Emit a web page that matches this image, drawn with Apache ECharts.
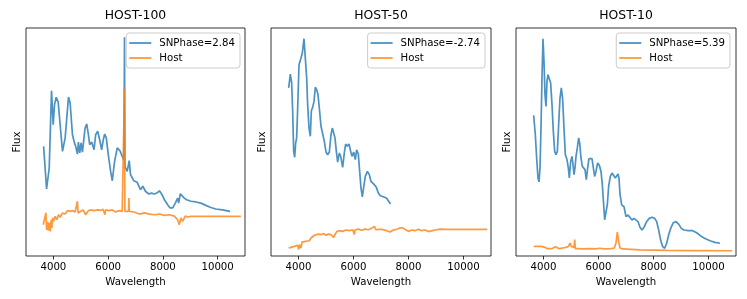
<!DOCTYPE html>
<html>
<head>
<meta charset="utf-8">
<script src="https://cdn.jsdelivr.net/npm/echarts@6/dist/echarts.min.js"></script>
<style>
html,body{margin:0;padding:0;background:#fff;}
#chart{width:747px;height:299px;}
</style>
</head>
<body>
<div id="chart"></div>
<script>
// Panel titles and legend labels
const panelTitles = ['HOST-100', 'HOST-50', 'HOST-10'];
const snLabels = ['SNPhase=2.84', 'SNPhase=-2.74', 'SNPhase=5.39'];
const hostLabel = 'Host';
const xTicks = [4000, 6000, 8000, 10000];

// [wavelength, flux] (arbitrary normalised flux)
const sn100 = [[3643,0.481],[3752,0.294],[3848,0.386],[3933,0.725],[3993,0.576],[4042,0.664],[4103,0.696],[4176,0.675],[4236,0.591],[4333,0.459],[4430,0.518],[4552,0.697],[4612,0.671],[4697,0.532],[4770,0.496],[4815,0.481],[4879,0.447],[4915,0.5],[4964,0.452],[5012,0.496],[5061,0.456],[5158,0.561],[5218,0.579],[5279,0.532],[5327,0.488],[5400,0.5],[5485,0.466],[5545,0.532],[5618,0.547],[5691,0.51],[5764,0.466],[5824,0.51],[5873,0.535],[5933,0.518],[6006,0.444],[6091,0.371],[6152,0.33],[6236,0.415],[6334,0.474],[6430,0.462],[6539,0.43],[6580,0.42],[6598,0.959],[6612,0.40],[6636,0.386],[6697,0.371],[6770,0.418],[6818,0.357],[6939,0.33],[7061,0.323],[7182,0.291],[7267,0.306],[7364,0.284],[7485,0.272],[7582,0.276],[7691,0.272],[7776,0.276],[7873,0.286],[7970,0.269],[8054,0.247],[8176,0.225],[8261,0.211],[8358,0.211],[8454,0.232],[8539,0.254],[8576,0.232],[8636,0.273],[8697,0.269],[8782,0.254],[8867,0.247],[9024,0.24],[9206,0.237],[9388,0.232],[9570,0.222],[9752,0.213],[9933,0.206],[10176,0.202],[10455,0.196]];
const host100 = [[3630,0.137],[3703,0.13],[3727,0.189],[3752,0.115],[3788,0.15],[3812,0.111],[3848,0.145],[3885,0.108],[3921,0.159],[3945,0.123],[3970,0.167],[4006,0.152],[4067,0.174],[4127,0.159],[4188,0.181],[4248,0.17],[4333,0.189],[4430,0.184],[4515,0.199],[4612,0.196],[4697,0.199],[4794,0.193],[4879,0.24],[4903,0.189],[5000,0.196],[5085,0.202],[5182,0.181],[5279,0.199],[5364,0.202],[5485,0.199],[5606,0.202],[5727,0.2],[5812,0.205],[5885,0.181],[5909,0.202],[6030,0.199],[6152,0.202],[6273,0.193],[6394,0.199],[6515,0.196],[6580,0.196],[6598,0.735],[6612,0.196],[6636,0.196],[6745,0.196],[6758,0.254],[6770,0.196],[6794,0.193],[6939,0.193],[7145,0.184],[7327,0.189],[7509,0.184],[7691,0.181],[7873,0.184],[8054,0.178],[8236,0.181],[8418,0.175],[8539,0.159],[8600,0.137],[8661,0.167],[8721,0.152],[8818,0.175],[8903,0.171],[9024,0.174],[10850,0.174]];

const sn50 = [[3642,0.737],[3703,0.798],[3751,0.759],[3788,0.635],[3824,0.459],[3861,0.433],[3897,0.496],[3933,0.518],[3970,0.649],[4018,0.839],[4067,0.858],[4103,0.854],[4139,0.89],[4200,0.953],[4248,0.868],[4297,0.781],[4333,0.664],[4382,0.561],[4430,0.525],[4467,0.637],[4515,0.652],[4564,0.678],[4612,0.74],[4660,0.73],[4709,0.708],[4757,0.649],[4818,0.569],[4879,0.561],[4939,0.503],[5000,0.456],[5060,0.444],[5121,0.456],[5182,0.532],[5230,0.561],[5279,0.569],[5327,0.518],[5376,0.459],[5424,0.412],[5485,0.452],[5533,0.437],[5606,0.389],[5666,0.452],[5715,0.491],[5775,0.481],[5836,0.491],[5897,0.459],[5945,0.437],[6006,0.456],[6066,0.423],[6115,0.466],[6175,0.447],[6224,0.371],[6272,0.298],[6321,0.259],[6369,0.301],[6430,0.349],[6503,0.371],[6575,0.357],[6636,0.327],[6697,0.335],[6757,0.313],[6830,0.301],[6903,0.276],[6975,0.264],[7085,0.26],[7206,0.253],[7291,0.238],[7345,0.228]];
const host50 = [[3642,0.035],[3727,0.038],[3788,0.032],[3848,0.042],[3909,0.035],[3970,0.047],[4006,0.028],[4042,0.05],[4091,0.035],[4127,0.061],[4188,0.067],[4248,0.064],[4309,0.072],[4394,0.067],[4454,0.079],[4515,0.082],[4576,0.091],[4636,0.094],[4721,0.096],[4818,0.094],[4915,0.098],[5000,0.091],[5085,0.096],[5182,0.094],[5279,0.082],[5327,0.094],[5400,0.108],[5485,0.111],[5606,0.108],[5727,0.114],[5848,0.111],[5970,0.115],[6030,0.094],[6054,0.114],[6175,0.118],[6297,0.113],[6418,0.118],[6539,0.115],[6636,0.12],[6697,0.115],[6757,0.13],[6818,0.115],[6939,0.117],[7024,0.117],[7206,0.111],[7327,0.105],[7448,0.114],[7570,0.117],[7691,0.123],[7776,0.124],[7873,0.117],[7994,0.108],[8115,0.114],[8236,0.111],[8357,0.117],[8479,0.111],[8600,0.114],[8721,0.107],[8781,0.099],[8866,0.111],[8963,0.114],[9084,0.117],[9206,0.118],[9327,0.117],[10860,0.117]];

const sn10 = [[3642,0.617],[3703,0.532],[3751,0.43],[3800,0.342],[3836,0.325],[3873,0.386],[3909,0.561],[3945,0.781],[3982,0.953],[4018,0.854],[4054,0.708],[4091,0.656],[4127,0.766],[4164,0.795],[4212,0.792],[4260,0.759],[4309,0.664],[4357,0.547],[4406,0.459],[4454,0.444],[4503,0.459],[4551,0.576],[4600,0.693],[4648,0.737],[4697,0.686],[4745,0.561],[4794,0.444],[4854,0.423],[4903,0.386],[4939,0.342],[4988,0.415],[5036,0.437],[5073,0.401],[5109,0.357],[5145,0.386],[5182,0.437],[5230,0.474],[5279,0.518],[5315,0.496],[5363,0.43],[5412,0.393],[5460,0.401],[5509,0.379],[5557,0.335],[5606,0.386],[5654,0.427],[5703,0.43],[5763,0.427],[5812,0.386],[5860,0.349],[5909,0.371],[5969,0.408],[6030,0.398],[6091,0.371],[6139,0.313],[6188,0.225],[6224,0.159],[6272,0.152],[6321,0.225],[6369,0.306],[6430,0.349],[6490,0.364],[6551,0.357],[6612,0.342],[6660,0.335],[6709,0.36],[6745,0.342],[6781,0.272],[6842,0.224],[6927,0.216],[7000,0.173],[7073,0.18],[7145,0.177],[7218,0.158],[7291,0.165],[7363,0.173],[7436,0.151],[7509,0.126],[7582,0.114],[7654,0.126],[7751,0.151],[7848,0.165],[7945,0.17],[8042,0.165],[8115,0.151],[8188,0.114],[8260,0.07],[8333,0.041],[8406,0.034],[8479,0.056],[8551,0.092],[8624,0.121],[8721,0.146],[8818,0.151],[8915,0.14],[9012,0.121],[9109,0.114],[9266,0.111],[9424,0.111],[9570,0.102],[9715,0.088],[9872,0.077],[10054,0.067],[10236,0.06],[10418,0.056]];
const host10 = [[3642,0.042],[3727,0.042],[3788,0.05],[3824,0.042],[3873,0.039],[3921,0.042],[3970,0.035],[4030,0.039],[4091,0.035],[4152,0.032],[4212,0.039],[4273,0.032],[4357,0.035],[4430,0.041],[4479,0.035],[4576,0.032],[4697,0.035],[4818,0.038],[4903,0.042],[4964,0.057],[5012,0.042],[5060,0.035],[5109,0.038],[5133,0.072],[5157,0.032],[5242,0.032],[5424,0.031],[5666,0.032],[5909,0.031],[6030,0.034],[6212,0.031],[6454,0.032],[6575,0.035],[6636,0.057],[6684,0.105],[6733,0.064],[6781,0.035],[6878,0.031],[7500,0.027],[8500,0.025],[9500,0.024],[10860,0.023]];

const snData = [sn100, sn50, sn10];
const hostData = [host100, host50, host10];

const FONT = 'DejaVu Sans';
const BLUE = 'rgba(31,119,180,0.8)';
const ORANGE = 'rgba(255,127,14,0.8)';
const grids = [{left:26,top:28,width:219,height:228},{left:271,top:28,width:220,height:228},{left:516,top:28,width:220,height:228}];
const legendRight = [507, 262, 17];

const option = {
  animation: false,
  backgroundColor: '#fff',
  textStyle: {fontFamily: FONT},
  title: panelTitles.map((t, i) => ({
    text: t, left: grids[i].left + grids[i].width / 2, top: 10, textAlign: 'center', padding: 0,
    textStyle: {fontFamily: FONT, fontSize: 12.4, fontWeight: 'normal', color: '#000'}
  })),
  grid: grids.map(g => Object.assign({show: true, borderColor: '#000', borderWidth: 0.8, backgroundColor: 'transparent'}, g)),
  legend: snLabels.map((s, i) => ({
    data: [
      {name: s, icon: 'rect', itemStyle: {color: BLUE}},
      {name: hostLabel, icon: 'rect', itemStyle: {color: ORANGE}}
    ],
    orient: 'vertical', right: legendRight[i], top: 33,
    padding: [4, 5, 4, 3], itemWidth: 22, itemHeight: 1.8, itemGap: 3,
    backgroundColor: 'rgba(255,255,255,0.8)', borderColor: '#cccccc', borderWidth: 1, borderRadius: 3,
    selectedMode: false,
    textStyle: {fontFamily: FONT, fontSize: 10.2, color: '#000', padding: [0, 0, 0, 3], lineHeight: 12}
  })),
  xAxis: grids.map((g, i) => ({
    gridIndex: i, type: 'value', min: 3000, max: 11000,
    name: 'Wavelength', nameLocation: 'middle', nameGap: 19,
    nameTextStyle: {fontFamily: FONT, fontSize: 10.2, color: '#000'},
    axisLine: {show: false}, splitLine: {show: false},
    axisTick: {show: true, customValues: xTicks, length: 3.5, lineStyle: {color: '#000', width: 0.8}},
    axisLabel: {customValues: xTicks, margin: 6, fontFamily: FONT, fontSize: 10.2, color: '#000',
      formatter: v => String(v)}
  })),
  yAxis: grids.map((g, i) => ({
    gridIndex: i, type: 'value', min: 0, max: 1,
    name: 'Flux', nameLocation: 'middle', nameGap: 4,
    nameTextStyle: {fontFamily: FONT, fontSize: 10.2, color: '#000'},
    axisLine: {show: false}, axisTick: {show: false}, axisLabel: {show: false}, splitLine: {show: false}
  })),
  series: []
};
for (let i = 0; i < 3; i++) {
  option.series.push({
    name: snLabels[i], type: 'line', xAxisIndex: i, yAxisIndex: i, data: snData[i],
    symbol: 'none', itemStyle: {color: BLUE},
    lineStyle: {color: '#1f77b4', width: 1.7, opacity: 0.8}
  });
  option.series.push({
    name: hostLabel, type: 'line', xAxisIndex: i, yAxisIndex: i, data: hostData[i],
    symbol: 'none', itemStyle: {color: ORANGE},
    lineStyle: {color: '#ff7f0e', width: 1.7, opacity: 0.8}
  });
}
const chart = echarts.init(document.getElementById('chart'), null, {renderer: 'canvas'});
chart.setOption(option);
</script>
</body>
</html>
